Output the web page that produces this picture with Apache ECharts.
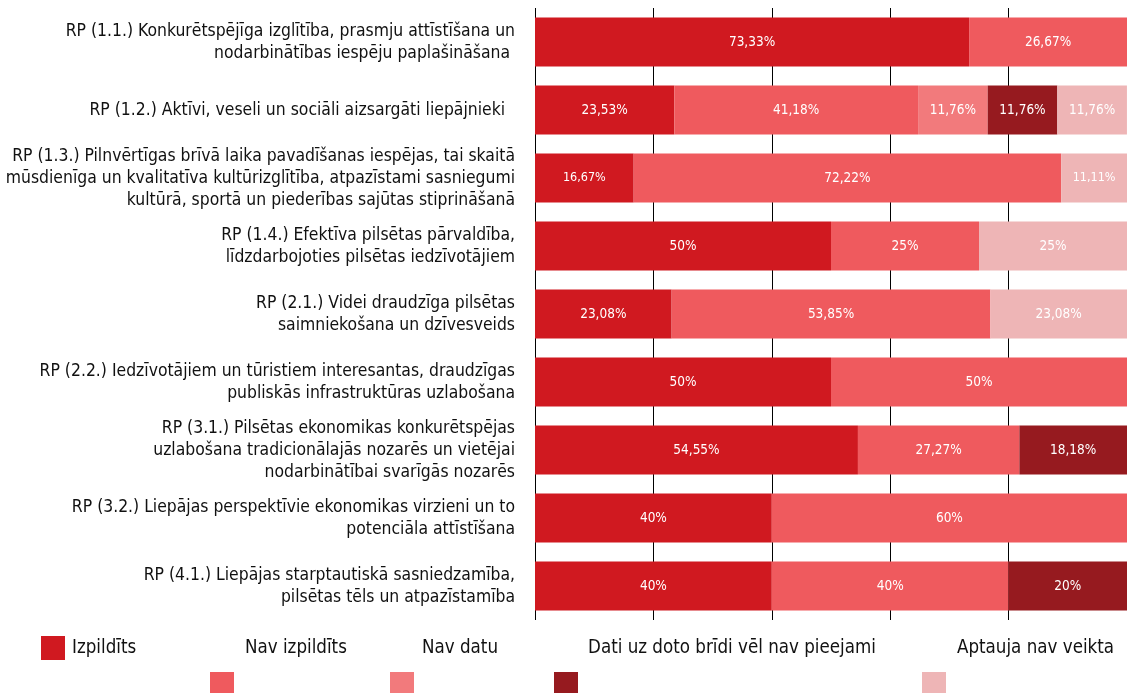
<!DOCTYPE html>
<html>
<head>
<meta charset="utf-8">
<script src="https://cdn.jsdelivr.net/npm/echarts@6/dist/echarts.min.js"></script>
<style>
  html, body { margin: 0; padding: 0; background: #fff; }
  #chart { width: 1127px; height: 693px; }
</style>
</head>
<body>
<div id="chart"></div>
<script>
// kategorijas (rīcības prioritātes)
const categories = [
  'RP (1.1.) Konkurētspējīga izglītība, prasmju attīstīšana un\nnodarbinātības iespēju paplašināšana ',
  'RP (1.2.) Aktīvi, veseli un sociāli aizsargāti liepājnieki  ',
  'RP (1.3.) Pilnvērtīgas brīvā laika pavadīšanas iespējas, tai skaitā\nmūsdienīga un kvalitatīva kultūrizglītība, atpazīstami sasniegumi\nkultūrā, sportā un piederības sajūtas stiprināšanā',
  'RP (1.4.) Efektīva pilsētas pārvaldība,\nlīdzdarbojoties pilsētas iedzīvotājiem',
  'RP (2.1.) Videi draudzīga pilsētas\nsaimniekošana un dzīvesveids',
  'RP (2.2.) Iedzīvotājiem un tūristiem interesantas, draudzīgas\npubliskās infrastruktūras uzlabošana',
  'RP (3.1.) Pilsētas ekonomikas konkurētspējas\nuzlabošana tradicionālajās nozarēs un vietējai\nnodarbinātībai svarīgās nozarēs',
  'RP (3.2.) Liepājas perspektīvie ekonomikas virzieni un to\npotenciāla attīstīšana',
  'RP (4.1.) Liepājas starptautiskā sasniedzamība,\npilsētas tēls un atpazīstamība'
]

const seriesNames = ['Izpildīts', 'Nav izpildīts', 'Nav datu', 'Dati uz doto brīdi vēl nav pieejami', 'Aptauja nav veikta']
const seriesColors = ['#D01920', '#EF5A5E', '#F27A7C', '#961A1F', '#EEB5B6']

// vērtības procentos
const izpildits     = [73.33, 23.53, 16.67, 50, 23.08, 50, 54.55, 40, 40]
const navIzpildits  = [26.67, 41.18, 72.22, 25, 53.85, 50, 27.27, 60, 40]
const navDatu       = [0, 11.76, 0, 0, 0, 0, 0, 0, 0]
const datiNav       = [0, 11.76, 0, 0, 0, 0, 18.18, 0, 20]
const aptaujaNav    = [0, 11.76, 11.11, 25, 23.08, 0, 0, 0, 0]

const seriesValues = [izpildits, navIzpildits, navDatu, datiNav, aptaujaNav]

const fmt = v => String(v).replace('.', ',') + '%'

const chart = echarts.init(document.getElementById('chart'))

const series = seriesNames.map((name, i) => ({
  name,
  type: 'bar',
  stack: 'total',
  barWidth: '72%',
  itemStyle: { color: seriesColors[i] },
  data: seriesValues[i].map((v, r) => ({
    value: v,
    label: {
      show: v > 0,
      fontSize: (r === 2 && v < 20) ? 12.5 : 13.5
    }
  })),
  label: {
    position: 'inside',
    color: '#fff',
    fontFamily: 'DejaVu Sans Condensed',
    formatter: p => fmt(p.value)
  }
}))

// leģenda: pirmais vienums ar ikonu blakus, pārējie ar ikonu rindā zemāk
const legendText = { fontFamily: 'DejaVu Sans Condensed', fontSize: 18.6, color: '#111' }
const textLeft = [null, 245, 422, 588, 957]
const iconLeft = [null, 210, 390, 554, 922]
const legends = [{
  data: ['Izpildīts'],
  left: 41, top: 636,
  padding: 0,
  icon: 'rect',
  itemWidth: 24, itemHeight: 24,
  textStyle: Object.assign({ padding: [0, 0, 0, 2] }, legendText),
  selectedMode: false
}]
for (let i = 1; i < seriesNames.length; i++) {
  legends.push({
    data: [seriesNames[i]],
    left: textLeft[i] - 5, top: 636,
    padding: 0,
    icon: 'rect',
    itemWidth: 0, itemHeight: 24,
    textStyle: legendText,
    selectedMode: false
  })
  legends.push({
    data: [seriesNames[i]],
    left: iconLeft[i], top: 672,
    padding: 0,
    icon: 'rect',
    itemWidth: 24, itemHeight: 24,
    formatter: () => '',
    selectedMode: false
  })
}

chart.setOption({
  animation: false,
  textStyle: { fontFamily: 'DejaVu Sans Condensed' },
  grid: { left: 535, right: 0, top: 8, bottom: 73 },
  legend: legends,
  xAxis: {
    type: 'value',
    min: 0,
    max: 100,
    interval: 20,
    axisLabel: { show: false },
    axisLine: { show: false },
    axisTick: { show: false },
    splitLine: { show: true, lineStyle: { color: '#000', width: 1 } }
  },
  yAxis: {
    type: 'category',
    inverse: true,
    data: categories,
    axisLine: { show: false },
    axisTick: { show: false },
    axisLabel: {
      margin: 20,
      fontSize: 17.4,
      lineHeight: 22,
      color: '#111',
      fontFamily: 'DejaVu Sans Condensed'
    }
  },
  series
})
</script>
</body>
</html>
